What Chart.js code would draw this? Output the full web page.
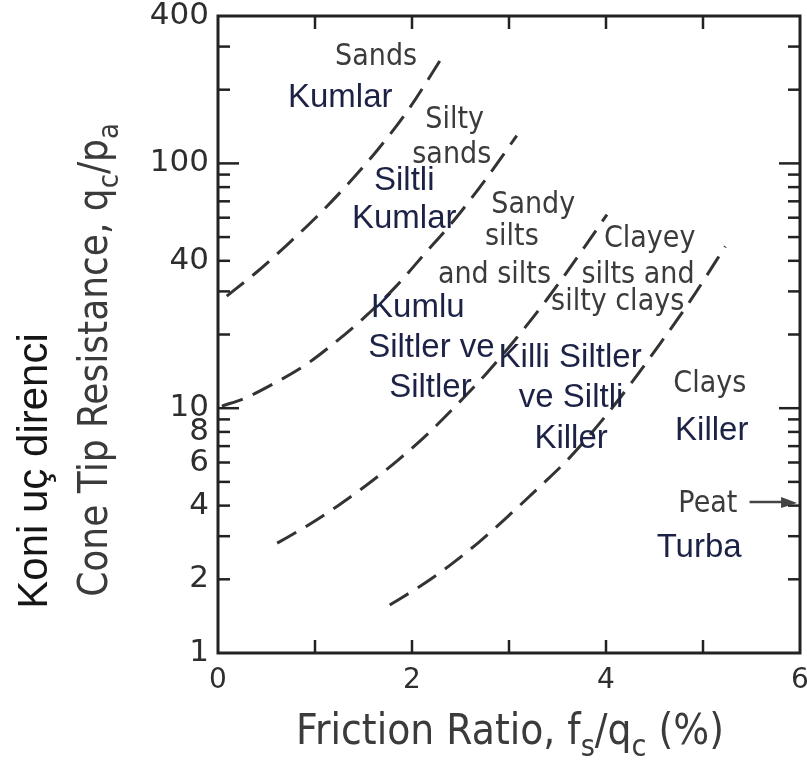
<!DOCTYPE html>
<html><head><meta charset="utf-8">
<script src="https://cdn.jsdelivr.net/npm/chart.js@4.4.1/dist/chart.umd.min.js"></script>
<style>
html,body{margin:0;padding:0;background:#fff;overflow:hidden;}
#wrap{position:relative;width:840px;height:760px;}
</style></head><body>
<div id="wrap"><canvas id="c"></canvas></div>
<script>
// ---------- DATA ----------
const xTickValues = [0, 1, 2, 3, 4, 5, 6];
const xTickLabels = ['0', '', '2', '', '4', '', '6'];
const yTickValues = [1, 2, 3, 4, 5, 6, 7, 8, 9, 10, 20, 30, 40, 50, 60, 70, 80, 90, 100, 200, 300, 400];
const yLabeledValues = [1, 2, 4, 6, 8, 10, 40, 100, 400];

// boundary: sands | silty sands
const b1X = [0.09, 0.40, 0.71, 1.02, 1.33, 1.64, 1.95, 2.34];
const b1Y = [28.7, 36.0, 46.4, 60.7, 81.6, 112.9, 162.9, 283];
// boundary: silty sands | sandy silts
const b2X = [0.04, 0.28, 0.59, 0.90, 1.21, 1.52, 1.83, 2.13, 2.44, 2.75, 3.08];
const b2Y = [10.2, 11.0, 12.7, 15.0, 18.6, 23.7, 31.3, 42.7, 59.0, 85.1, 129.8];
// boundary: sandy silts | clayey silts
const b3X = [0.61, 0.92, 1.23, 1.54, 1.85, 2.16, 2.46, 2.77, 3.08, 3.39, 3.70, 4.01];
const b3Y = [2.81, 3.31, 3.98, 4.88, 6.11, 7.84, 10.3, 13.9, 19.4, 27.8, 41.1, 61.8];
// boundary: clayey silts | clays
const b4X = [1.77, 2.08, 2.39, 2.70, 3.01, 3.32, 3.63, 3.94, 4.25, 4.56, 4.87, 5.23];
const b4Y = [1.57, 1.87, 2.28, 2.86, 3.68, 4.79, 6.31, 8.73, 12.5, 18.4, 27.5, 45.8];

const zoneLabelsEN = ['Sands', 'Silty', 'sands', 'Sandy', 'silts', 'and silts', 'Clayey', 'silts and', 'silty clays', 'Clays', 'Peat'];
const zoneLabelsTR = ['Kumlar', 'Siltli', 'Kumlar', 'Kumlu', 'Siltler ve', 'Siltler', 'Killi Siltler', 've Siltli', 'Killer', 'Killer', 'Turba'];

// ---------- LAYOUT (anchors in data units: centre x, baseline y) ----------
const anchorsEN = [[1.63,252],[2.44,139.5],[2.41,100.4],[3.25,62.7],[3.03,46.4],[2.85,32.5],[4.45,45.6],[4.33,32.5],[4.12,25.2],[5.07,11.65],[5.05,3.77]];
const anchorsTR = [[1.26,170],[1.92,77.9],[1.92,54.5],[2.06,23.6],[2.20,16.2],[2.19,11.1],[3.63,14.7],[3.64,10.1],[3.64,6.88],[5.09,7.42],[4.96,2.47]];
const peatArrow = {x1:5.48, x2:5.97, y:4.14};

const GRAY = '#3b3b3b';
const NAVY = '#1c2246';
const FAM = '"DejaVu Sans"';
const SQ = 0.9;

function drawRich(ctx, parts, size, family, color, squeeze, align) {
  ctx.save();
  ctx.scale(squeeze, 1);
  const subSize = size * 0.72;
  let total = 0;
  const widths = parts.map(p => {
    ctx.font = (p.sub ? subSize : size) + 'px ' + family;
    const w = ctx.measureText(p.t).width; total += w; return w;
  });
  let cx = align === 'center' ? -total / 2 : 0;
  ctx.fillStyle = color; ctx.textBaseline = 'alphabetic'; ctx.textAlign = 'left';
  parts.forEach((p, i) => {
    ctx.font = (p.sub ? subSize : size) + 'px ' + family;
    ctx.fillText(p.t, cx, p.sub ? size * 0.28 : 0);
    cx += widths[i];
  });
  ctx.restore();
}

const framePlugin = {
  id: 'frame',
  afterDraw(chart) {
    const {ctx, chartArea: a, scales: {x, y}} = chart;
    ctx.save();
    ctx.strokeStyle = '#222'; ctx.lineCap = 'butt';
    ctx.lineWidth = 3;
    ctx.strokeRect(a.left, a.top, a.right - a.left, a.bottom - a.top);
    ctx.lineWidth = 2.5;
    const seg = (x1, y1, x2, y2) => { ctx.beginPath(); ctx.moveTo(x1, y1); ctx.lineTo(x2, y2); ctx.stroke(); };
    yTickValues.forEach(v => {
      if (v === 1 || v === 400) return;
      const py = y.getPixelForValue(v);
      const len = (v === 10 || v === 100) ? 21 : 12;
      seg(a.left, py, a.left + len, py);
      seg(a.right, py, a.right - len, py);
    });
    xTickValues.forEach(v => {
      if (v === 0 || v === 6) return;
      const px = x.getPixelForValue(v);
      seg(px, a.bottom, px, a.bottom - 13);
      seg(px, a.top, px, a.top + 13);
    });
    ctx.restore();

    ctx.save();
    zoneLabelsEN.forEach((t, i) => {
      ctx.save();
      ctx.translate(x.getPixelForValue(anchorsEN[i][0]), y.getPixelForValue(anchorsEN[i][1]));
      drawRich(ctx, [{t}], 30, FAM, GRAY, SQ, 'center');
      ctx.restore();
    });
    zoneLabelsTR.forEach((t, i) => {
      ctx.save();
      ctx.translate(x.getPixelForValue(anchorsTR[i][0]), y.getPixelForValue(anchorsTR[i][1]));
      drawRich(ctx, [{t}], 33, '"Liberation Sans"', NAVY, 1, 'center');
      ctx.restore();
    });
    const ax1 = x.getPixelForValue(peatArrow.x1), ax2 = x.getPixelForValue(peatArrow.x2), ay = y.getPixelForValue(peatArrow.y);
    ctx.strokeStyle = '#444'; ctx.fillStyle = '#444'; ctx.lineWidth = 2.5;
    ctx.beginPath(); ctx.moveTo(ax1, ay); ctx.lineTo(ax2 - 12, ay); ctx.stroke();
    ctx.beginPath(); ctx.moveTo(ax2, ay + 1); ctx.lineTo(ax2 - 16, ay - 5); ctx.lineTo(ax2 - 16, ay + 6); ctx.closePath(); ctx.fill();

    ctx.save();
    ctx.translate((a.left + a.right) / 2 + 1, 744);
    drawRich(ctx, [{t: 'Friction Ratio, f'}, {t: 's', sub: true}, {t: '/q'}, {t: 'c', sub: true}, {t: ' (%)'}], 42, FAM, GRAY, SQ, 'center');
    ctx.restore();

    ctx.save();
    ctx.translate(107, 360);
    ctx.rotate(-Math.PI / 2);
    drawRich(ctx, [{t: 'Cone Tip Resistance, q'}, {t: 'c', sub: true}, {t: '/p'}, {t: 'a', sub: true}], 40, FAM, GRAY, SQ, 'center');
    ctx.restore();

    ctx.save();
    ctx.translate(47, 471);
    ctx.rotate(-Math.PI / 2);
    drawRich(ctx, [{t: 'Koni uç direnci'}], 42, '"Liberation Sans"', '#161616', 1, 'center');
    ctx.restore();
    ctx.restore();
  }
};

function mk(xs, ys) { return xs.map((v, i) => ({x: v, y: ys[i]})); }
const ds = [mk(b1X, b1Y), mk(b2X, b2Y), mk(b3X, b3Y), mk(b4X, b4Y)].map(d => ({
  data: d, borderColor: '#333', borderWidth: 3, borderDash: [22, 11],
  pointRadius: 0, cubicInterpolationMode: 'monotone', fill: false
}));

new Chart(document.getElementById('c'), {
  type: 'line',
  data: {datasets: ds},
  options: {
    responsive: true, maintainAspectRatio: false, animation: false,
    layout: {padding: {left: 0, right: 40, top: 16, bottom: 0}},
    plugins: {legend: {display: false}, tooltip: {enabled: false}},
    scales: {
      x: {
        type: 'linear', min: 0, max: 6,
        grid: {display: false, drawTicks: false}, border: {display: false},
        afterBuildTicks: s => { s.ticks = xTickValues.map(v => ({value: v})); },
        afterFit: s => { s.height = 107; s.paddingLeft = 0; s.paddingRight = 0; },
        ticks: {
          autoSkip: false, maxRotation: 0, padding: 14, color: '#2e2e2e',
          font: {family: FAM, size: 28, lineHeight: 1},
          callback: v => { const i = xTickValues.indexOf(v); return i >= 0 ? xTickLabels[i] : ''; }
        }
      },
      y: {
        type: 'logarithmic', min: 1, max: 400,
        grid: {display: false, drawTicks: false}, border: {display: false},
        afterBuildTicks: s => { s.ticks = yTickValues.map(v => ({value: v})); },
        afterFit: s => { s.width = 218; s.paddingTop = 0; s.paddingBottom = 0; },
        ticks: {
          autoSkip: false, padding: 9, color: '#2e2e2e',
          font: {family: FAM, size: 31, lineHeight: 1},
          callback: v => yLabeledValues.includes(v) ? String(v) : ''
        }
      }
    }
  },
  plugins: [framePlugin]
});
</script>
</body></html>
